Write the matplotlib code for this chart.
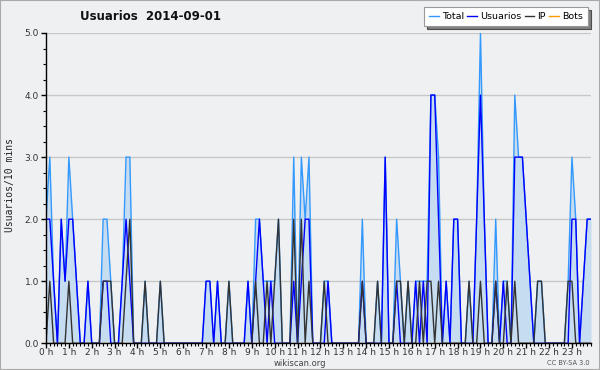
import numpy as np
from matplotlib import pyplot as plt
from matplotlib.patches import Rectangle
from matplotlib.ticker import MultipleLocator, FormatStrFormatter

# edits per 10 minutes, 2014-09-01 (144 slots)
total = [2, 3, 1, 0, 2, 1, 3, 2, 1, 0, 0, 1, 0, 0, 0, 2, 2, 1, 0, 0, 1, 3, 3, 0,
         0, 0, 1, 0, 0, 0, 1, 0, 0, 0, 0, 0, 0, 0, 0, 0, 0, 0, 1, 1, 0, 1, 0, 0,
         1, 0, 0, 0, 0, 1, 0, 2, 2, 1, 1, 1, 1, 2, 0, 0, 0, 3, 0, 3, 2, 3, 0, 0,
         0, 1, 1, 0, 0, 0, 0, 0, 0, 0, 0, 2, 0, 0, 0, 1, 0, 3, 0, 0, 2, 1, 0, 1,
         0, 1, 1, 1, 1, 4, 4, 3, 0, 1, 0, 2, 2, 0, 0, 1, 0, 2, 5, 2, 0, 0, 2, 0,
         1, 1, 0, 4, 3, 3, 2, 1, 0, 1, 1, 0, 0, 0, 0, 0, 0, 1, 3, 2, 0, 1, 2, 2]
usuarios = [2, 2, 1, 0, 2, 1, 2, 2, 1, 0, 0, 1, 0, 0, 0, 1, 1, 0, 0, 0, 1, 2, 1, 0,
            0, 0, 0, 0, 0, 0, 0, 0, 0, 0, 0, 0, 0, 0, 0, 0, 0, 0, 1, 1, 0, 1, 0, 0,
            0, 0, 0, 0, 0, 1, 0, 1, 2, 1, 0, 1, 0, 0, 0, 0, 0, 1, 0, 1, 2, 2, 0, 0,
            0, 0, 1, 0, 0, 0, 0, 0, 0, 0, 0, 1, 0, 0, 0, 0, 0, 3, 0, 0, 1, 0, 0, 0,
            0, 1, 0, 1, 0, 4, 4, 2, 0, 1, 0, 2, 2, 0, 0, 0, 0, 2, 4, 2, 0, 0, 1, 0,
            1, 0, 0, 3, 3, 3, 2, 1, 0, 0, 0, 0, 0, 0, 0, 0, 0, 0, 2, 2, 0, 1, 2, 2]
ip = [0, 1, 0, 0, 0, 0, 1, 0, 0, 0, 0, 0, 0, 0, 0, 1, 1, 1, 0, 0, 0, 1, 2, 0,
      0, 0, 1, 0, 0, 0, 1, 0, 0, 0, 0, 0, 0, 0, 0, 0, 0, 0, 0, 0, 0, 0, 0, 0,
      1, 0, 0, 0, 0, 0, 0, 1, 0, 0, 1, 0, 1, 2, 0, 0, 0, 2, 0, 2, 0, 1, 0, 0,
      0, 1, 0, 0, 0, 0, 0, 0, 0, 0, 0, 1, 0, 0, 0, 1, 0, 0, 0, 0, 1, 1, 0, 1,
      0, 0, 1, 0, 1, 1, 0, 1, 0, 0, 0, 0, 0, 0, 0, 1, 0, 0, 1, 0, 0, 0, 1, 0,
      0, 1, 0, 1, 0, 0, 0, 0, 0, 1, 1, 0, 0, 0, 0, 0, 0, 1, 1, 0, 0, 0, 0, 0]
bots = [0] * 144

hour_labels = ["%d h" % h for h in range(24)]

bg = '#eff0f1'
hours = np.arange(len(total)) / 6.0

fig = plt.figure(figsize=(6, 3.7), dpi=100, facecolor=bg)
ax = fig.add_axes([46 / 600, 26.7 / 370, 545 / 600, 310.3 / 370], facecolor=bg)

ax.fill_between(hours, total, 0, color='#c6dcf0', lw=0, zorder=1)
l_bot, = ax.plot(hours, bots, color='#ff9900', lw=1, zorder=1.5)
l_tot, = ax.plot(hours, total, color='#3399ff', lw=1, zorder=2)
l_usr, = ax.plot(hours, usuarios, color='#0000ff', lw=1, zorder=2.1)
l_ip, = ax.plot(hours, ip, color='#333333', lw=1, zorder=2.2)

ax.set_xlim(0, hours[-1])
ax.set_ylim(0, 5)

ax.yaxis.set_major_locator(MultipleLocator(1))
ax.yaxis.set_minor_locator(MultipleLocator(0.25))
ax.yaxis.set_major_formatter(FormatStrFormatter('%.1f'))
ax.set_xticks(range(24))
ax.set_xticklabels(hour_labels)
ax.xaxis.set_minor_locator(MultipleLocator(1 / 6))
ax.tick_params(axis='both', which='major', length=3.5, width=1, labelsize=6.5,
               labelcolor='#333333', direction='out')
ax.tick_params(axis='x', which='major', pad=0)
ax.tick_params(axis='y', which='major', pad=1.5)
ax.tick_params(axis='both', which='minor', length=2.5, width=0.8, direction='out')

ax.grid(axis='y', which='major', color='#c8c8c8', lw=1, zorder=0)
ax.set_axisbelow(True)
for s in ['top', 'right']:
    ax.spines[s].set_visible(False)
for s in ['left', 'bottom']:
    ax.spines[s].set_linewidth(1)
    ax.spines[s].set_zorder(3)

fig.text(150 / 600, 1 - 17 / 370, "Usuarios  2014-09-01", ha='center', va='center',
         fontsize=8.5, fontweight='bold', color='#111111')
fig.text(10 / 600, 0.5, "Usuarios/10 mins", rotation=90, ha='center', va='center',
         fontsize=7, family='DejaVu Sans Mono', color='#222222')
fig.text(300 / 600, 1 - 363 / 370, "wikiscan.org", ha='center', va='center',
         fontsize=6, color='#444444')
fig.text(590 / 600, 1 - 363 / 370, "CC BY-SA 3.0", ha='right', va='center',
         fontsize=4.8, color='#555555')

leg = ax.legend([l_tot, l_usr, l_ip, l_bot], ['Total', 'Usuarios', 'IP', 'Bots'],
                loc='upper right', bbox_to_anchor=(588 / 600, 1 - 7 / 370),
                bbox_transform=fig.transFigure, ncol=4, fontsize=6.8,
                frameon=True, fancybox=False, shadow={'facecolor': '#808080', 'alpha': 1.0},
                handlelength=1.0, handletextpad=0.35, columnspacing=0.35,
                borderpad=0.55, borderaxespad=0)
leg.get_frame().set_edgecolor('#999999')
leg.get_frame().set_linewidth(0.8)

fig.patches.append(Rectangle((0, 0), 1, 1, transform=fig.transFigure, fill=False,
                             edgecolor='#aaaaaa', lw=1.5))

fig.savefig('out.png', dpi=100, facecolor=bg)
